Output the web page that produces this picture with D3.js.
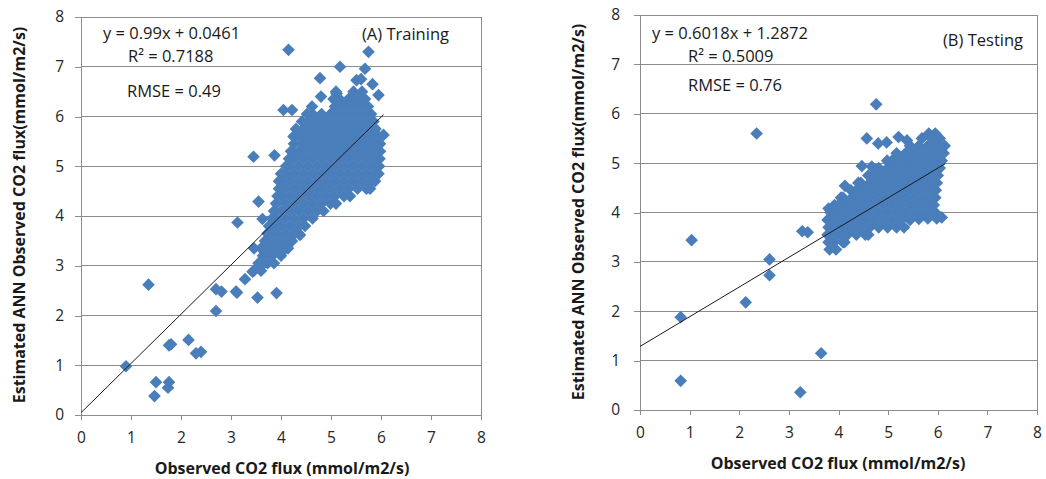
<!DOCTYPE html>
<html>
<head>
<meta charset="utf-8">
<script src="https://cdn.jsdelivr.net/npm/d3@7"></script>
<style>
  html, body { margin: 0; padding: 0; background: #fff; }
  svg text { font-family: "Open Sans", Lato, sans-serif; }
</style>
</head>
<body>
<svg id="chart" width="1046" height="479"></svg>
<script>
// ---------------- DATA ----------------
const axisTicks = [0, 1, 2, 3, 4, 5, 6, 7, 8];

// (A) Training: [observed, estimated]
const trainingPoints = [
  [0.9,0.98],[1.35,2.62],[1.5,0.66],[1.47,0.38],[1.76,0.66],[1.74,0.55],[1.76,1.4],[1.8,1.42],
  [2.15,1.51],[2.3,1.24],[2.4,1.27],[2.7,2.09],[2.7,2.53],[2.81,2.48],[3.1,2.48],[3.12,2.46],
  [3.28,2.73],[3.53,2.36],[3.91,2.45],[3.43,2.88],[3.46,3.35],[3.63,3.02],[4.08,3.35],[4.38,3.62],
  [3.13,3.87],[3.63,3.94],[3.55,4.29],[3.45,5.19],[3.87,5.22],[4.05,6.13],[4.22,6.13],[4.15,7.34],
  [5.75,7.3],[5.18,7.0],[5.68,6.96],[4.78,6.77],[5.6,6.75],[5.83,6.65],[5.95,6.43],[4.8,6.4],
  [5.1,6.5],[5.38,6.35],[6.05,5.63],[5.51,6.73],[5.11,6.46],
  // dense cloud
  [3.46,2.9],[3.6,2.9],
  [3.55,3.05],[3.73,3.05],[3.86,3.05],
  [3.64,3.2],[3.82,3.2],[4.0,3.2],
  [3.6,3.35],[3.73,3.35],[3.91,3.35],[4.09,3.35],[4.14,3.35],
  [3.68,3.5],[3.82,3.5],[4.0,3.5],[4.18,3.5],[4.22,3.5],
  [3.73,3.65],[3.91,3.65],[4.09,3.65],[4.27,3.65],[4.35,3.65],
  [3.76,3.8],[3.82,3.8],[4.0,3.8],[4.18,3.8],[4.36,3.8],[4.48,3.8],
  [3.82,3.95],[3.91,3.95],[4.09,3.95],[4.27,3.95],[4.45,3.95],[4.63,3.95],
  [3.86,4.1],[4.0,4.1],[4.18,4.1],[4.36,4.1],[4.54,4.1],[4.72,4.1],[4.85,4.1],
  [3.9,4.25],[4.09,4.25],[4.27,4.25],[4.45,4.25],[4.63,4.25],[4.81,4.25],[4.99,4.25],[5.1,4.25],
  [3.93,4.4],[4.0,4.4],[4.18,4.4],[4.36,4.4],[4.54,4.4],[4.72,4.4],[4.9,4.4],[5.08,4.4],[5.26,4.4],[5.38,4.4],
  [3.96,4.55],[4.09,4.55],[4.27,4.55],[4.45,4.55],[4.63,4.55],[4.81,4.55],[4.99,4.55],[5.17,4.55],[5.35,4.55],[5.53,4.55],[5.71,4.55],[5.78,4.55],
  [3.96,4.7],[4.0,4.7],[4.18,4.7],[4.36,4.7],[4.54,4.7],[4.72,4.7],[4.9,4.7],[5.08,4.7],[5.26,4.7],[5.44,4.7],[5.62,4.7],[5.8,4.7],[5.88,4.7],
  [4.0,4.85],[4.09,4.85],[4.27,4.85],[4.45,4.85],[4.63,4.85],[4.81,4.85],[4.99,4.85],[5.17,4.85],[5.35,4.85],[5.53,4.85],[5.71,4.85],[5.89,4.85],[5.95,4.85],
  [4.1,5.0],[4.18,5.0],[4.36,5.0],[4.54,5.0],[4.72,5.0],[4.9,5.0],[5.08,5.0],[5.26,5.0],[5.44,5.0],[5.62,5.0],[5.8,5.0],[5.96,5.0],
  [4.16,5.15],[4.27,5.15],[4.45,5.15],[4.63,5.15],[4.81,5.15],[4.99,5.15],[5.17,5.15],[5.35,5.15],[5.53,5.15],[5.71,5.15],[5.89,5.15],[5.97,5.15],
  [4.2,5.3],[4.36,5.3],[4.54,5.3],[4.72,5.3],[4.9,5.3],[5.08,5.3],[5.26,5.3],[5.44,5.3],[5.62,5.3],[5.8,5.3],[5.98,5.3],
  [4.26,5.45],[4.45,5.45],[4.63,5.45],[4.81,5.45],[4.99,5.45],[5.17,5.45],[5.35,5.45],[5.53,5.45],[5.71,5.45],[5.89,5.45],[5.98,5.45],
  [4.25,5.6],[4.36,5.6],[4.54,5.6],[4.72,5.6],[4.9,5.6],[5.08,5.6],[5.26,5.6],[5.44,5.6],[5.62,5.6],[5.8,5.6],[5.95,5.6],
  [4.3,5.75],[4.45,5.75],[4.63,5.75],[4.81,5.75],[4.99,5.75],[5.17,5.75],[5.35,5.75],[5.53,5.75],[5.71,5.75],[5.89,5.75],
  [4.42,5.9],[4.54,5.9],[4.72,5.9],[4.9,5.9],[5.08,5.9],[5.26,5.9],[5.44,5.9],[5.62,5.9],[5.8,5.9],[5.85,5.9],
  [4.52,6.05],[4.63,6.05],[4.81,6.05],[4.99,6.05],[5.17,6.05],[5.35,6.05],[5.53,6.05],[5.71,6.05],[5.8,6.05],
  [4.62,6.2],[5.08,6.2],[5.26,6.2],[5.44,6.2],[5.62,6.2],[5.74,6.2],
  [5.05,6.35],[5.17,6.35],[5.35,6.35],[5.53,6.35],[5.68,6.35],
  [5.45,6.5],[5.62,6.5]
];

// (B) Testing: [observed, estimated]
const testingPoints = [
  [1.04,3.44],[0.82,1.88],[0.82,0.59],[2.13,2.18],[2.61,3.05],[2.61,2.73],[3.23,0.36],[3.65,1.15],
  [2.35,5.6],[4.76,6.19],[3.27,3.62],[3.38,3.6],[4.13,4.54],[4.47,4.94],[4.67,4.93],
  [4.57,5.5],[4.8,5.4],[4.97,5.42],[5.21,5.53],[5.38,5.46],[3.8,4.08],
  // dense cloud
  [3.82,3.25],[3.95,3.25],
  [3.8,3.4],[3.91,3.4],[4.09,3.4],[4.12,3.4],
  [3.78,3.55],[3.82,3.55],[4.0,3.55],[4.18,3.55],[4.36,3.55],[4.54,3.55],[4.6,3.55],
  [3.8,3.7],[3.91,3.7],[4.09,3.7],[4.27,3.7],[4.45,3.7],[4.63,3.7],[4.81,3.7],[4.99,3.7],[5.17,3.7],[5.32,3.7],
  [3.78,3.85],[3.82,3.85],[4.0,3.85],[4.18,3.85],[4.36,3.85],[4.54,3.85],[4.72,3.85],[4.9,3.85],[5.08,3.85],[5.26,3.85],[5.44,3.85],[5.62,3.87],[5.8,3.88],[5.98,3.88],[6.08,3.9],
  [3.84,4.0],[3.91,4.0],[4.09,4.0],[4.27,4.0],[4.45,4.0],[4.63,4.0],[4.81,4.0],[4.99,4.0],[5.17,4.0],[5.35,4.0],[5.53,4.0],[5.71,4.0],[5.89,4.0],[5.95,4.0],
  [3.92,4.15],[4.0,4.15],[4.18,4.15],[4.36,4.15],[4.54,4.15],[4.72,4.15],[4.9,4.15],[5.08,4.15],[5.26,4.15],[5.44,4.15],[5.62,4.15],[5.8,4.15],[5.92,4.15],
  [4.05,4.3],[4.09,4.3],[4.27,4.3],[4.45,4.3],[4.63,4.3],[4.81,4.3],[4.99,4.3],[5.17,4.3],[5.35,4.3],[5.53,4.3],[5.71,4.3],[5.89,4.3],[5.95,4.3],
  [4.25,4.45],[4.36,4.45],[4.54,4.45],[4.72,4.45],[4.9,4.45],[5.08,4.45],[5.26,4.45],[5.44,4.45],[5.62,4.45],[5.8,4.45],[5.96,4.45],
  [4.4,4.6],[4.45,4.6],[4.63,4.6],[4.81,4.6],[4.99,4.6],[5.17,4.6],[5.35,4.6],[5.53,4.6],[5.71,4.6],[5.89,4.6],[5.98,4.6],
  [4.6,4.75],[4.72,4.75],[4.9,4.75],[5.08,4.75],[5.26,4.75],[5.44,4.75],[5.62,4.75],[5.8,4.75],[5.98,4.75],[6.0,4.75],
  [4.81,4.9],[4.99,4.9],[5.17,4.9],[5.35,4.9],[5.53,4.9],[5.71,4.9],[5.89,4.9],[6.04,4.9],
  [4.98,5.05],[5.08,5.05],[5.26,5.05],[5.44,5.05],[5.62,5.05],[5.8,5.05],[5.98,5.05],[6.08,5.05],
  [5.17,5.2],[5.35,5.2],[5.53,5.2],[5.71,5.2],[5.89,5.2],[6.07,5.2],[6.12,5.2],
  [5.44,5.35],[5.62,5.35],[5.8,5.35],[5.98,5.35],[6.14,5.35],
  [5.68,5.5],[5.89,5.5],[6.04,5.5],
  [5.82,5.6],[5.95,5.6]
];

// Trend lines: slope, intercept, drawn x range
const trainFit = { slope: 0.99, intercept: 0.0461, xRange: [0, 6.05] };
const testFit  = { slope: 0.6018, intercept: 1.2872, xRange: [0, 6.15] };

const trainLabels = ["y = 0.99x + 0.0461", "R² = 0.7188", "RMSE = 0.49", "(A) Training"];
const testLabels  = ["y = 0.6018x + 1.2872", "R² = 0.5009", "RMSE = 0.76", "(B) Testing"];

const xTitle = "Observed CO2 flux (mmol/m2/s)";
const yTitle = "Estimated ANN Observed CO2 flux(mmol/m2/s)";

// ---------------- DRAW ----------------
const svg = d3.select("#chart");
const markerColor = "#4a7ebb";
const gridColor = "#8c8c8c";
const FONT = "'Open Sans', Lato, sans-serif";

function panel(cfg) {
  const x = d3.scaleLinear().domain([0, 8]).range([cfg.left, cfg.right]);
  const y = d3.scaleLinear().domain([0, 8]).range([cfg.bottom, cfg.top]);
  const g = svg.append("g");

  // gridlines
  g.append("g").selectAll("line").data(axisTicks.filter(t => t > 0)).join("line")
    .attr("x1", cfg.left).attr("x2", cfg.right)
    .attr("y1", d => y(d)).attr("y2", d => y(d))
    .attr("stroke", gridColor).attr("stroke-width", 1).attr("shape-rendering", "crispEdges");
  // right border
  g.append("line").attr("x1", cfg.right).attr("x2", cfg.right)
    .attr("y1", cfg.top).attr("y2", cfg.bottom)
    .attr("stroke", gridColor).attr("shape-rendering", "crispEdges");

  // axes
  const xAxis = d3.axisBottom(x).tickValues(axisTicks).tickSize(5).tickPadding(12).tickFormat(d3.format("d"));
  const yAxis = d3.axisLeft(y).tickValues(axisTicks).tickSize(6).tickPadding(cfg.yPad).tickFormat(d3.format("d"));
  const gx = g.append("g").attr("transform", `translate(0,${cfg.bottom})`).call(xAxis);
  const gy = g.append("g").attr("transform", `translate(${cfg.left},0)`).call(yAxis);
  [gx, gy].forEach(a => {
    a.select(".domain").attr("stroke", gridColor).attr("shape-rendering", "crispEdges");
    a.selectAll(".tick line").attr("stroke", gridColor).attr("shape-rendering", "crispEdges");
    a.selectAll(".tick text").attr("fill", "#262626").style("font-size", "15.5px")
      .style("font-family", FONT);
  });

  // points
  const sym = d3.symbol().type(d3.symbolSquare).size(80);
  g.append("g").selectAll("path").data(cfg.points).join("path")
    .attr("d", sym)
    .attr("transform", d => `translate(${x(d[0])},${y(d[1])}) rotate(45)`)
    .attr("fill", markerColor);

  // trend line
  const fit = cfg.fit;
  g.append("line")
    .attr("x1", x(fit.xRange[0])).attr("y1", y(fit.slope * fit.xRange[0] + fit.intercept))
    .attr("x2", x(fit.xRange[1])).attr("y2", y(fit.slope * fit.xRange[1] + fit.intercept))
    .attr("stroke", "#1a1a1a").attr("stroke-width", 1);

  // annotations
  cfg.labels.forEach((t, i) => {
    g.append("text").attr("x", cfg.labelPos[i][0]).attr("y", cfg.labelPos[i][1])
      .attr("dominant-baseline", "central")
      .attr("fill", "#1a1a1a").style("font-size", "16.5px").style("font-family", FONT).text(t);
  });

  // axis titles
  g.append("text").attr("x", cfg.xTitlePos[0]).attr("y", cfg.xTitlePos[1])
    .attr("text-anchor", "middle").attr("dominant-baseline", "central")
    .style("font-size", "16px").style("font-weight", "bold").style("font-family", FONT)
    .attr("fill", "#1a1a1a").text(xTitle);
  g.append("text")
    .attr("transform", `translate(${cfg.yTitlePos[0]},${cfg.yTitlePos[1]}) rotate(-90)`)
    .attr("text-anchor", "middle").attr("dominant-baseline", "central")
    .style("font-size", "16px").style("font-weight", "bold").style("font-family", FONT)
    .attr("fill", "#1a1a1a").text(yTitle);
}

panel({
  left: 81, right: 481, top: 17, bottom: 415, yPad: 11,
  points: trainingPoints, fit: trainFit, labels: trainLabels,
  labelPos: [[103, 32], [128, 55], [127, 90], [362, 33]],
  xTitlePos: [282, 468], yTitlePos: [19, 215]
});
panel({
  left: 640, right: 1037, top: 15, bottom: 410, yPad: 14,
  points: testingPoints, fit: testFit, labels: testLabels,
  labelPos: [[652, 32], [688, 55], [688, 84], [943, 39]],
  xTitlePos: [838, 463], yTitlePos: [578, 212]
});
</script>
</body>
</html>
